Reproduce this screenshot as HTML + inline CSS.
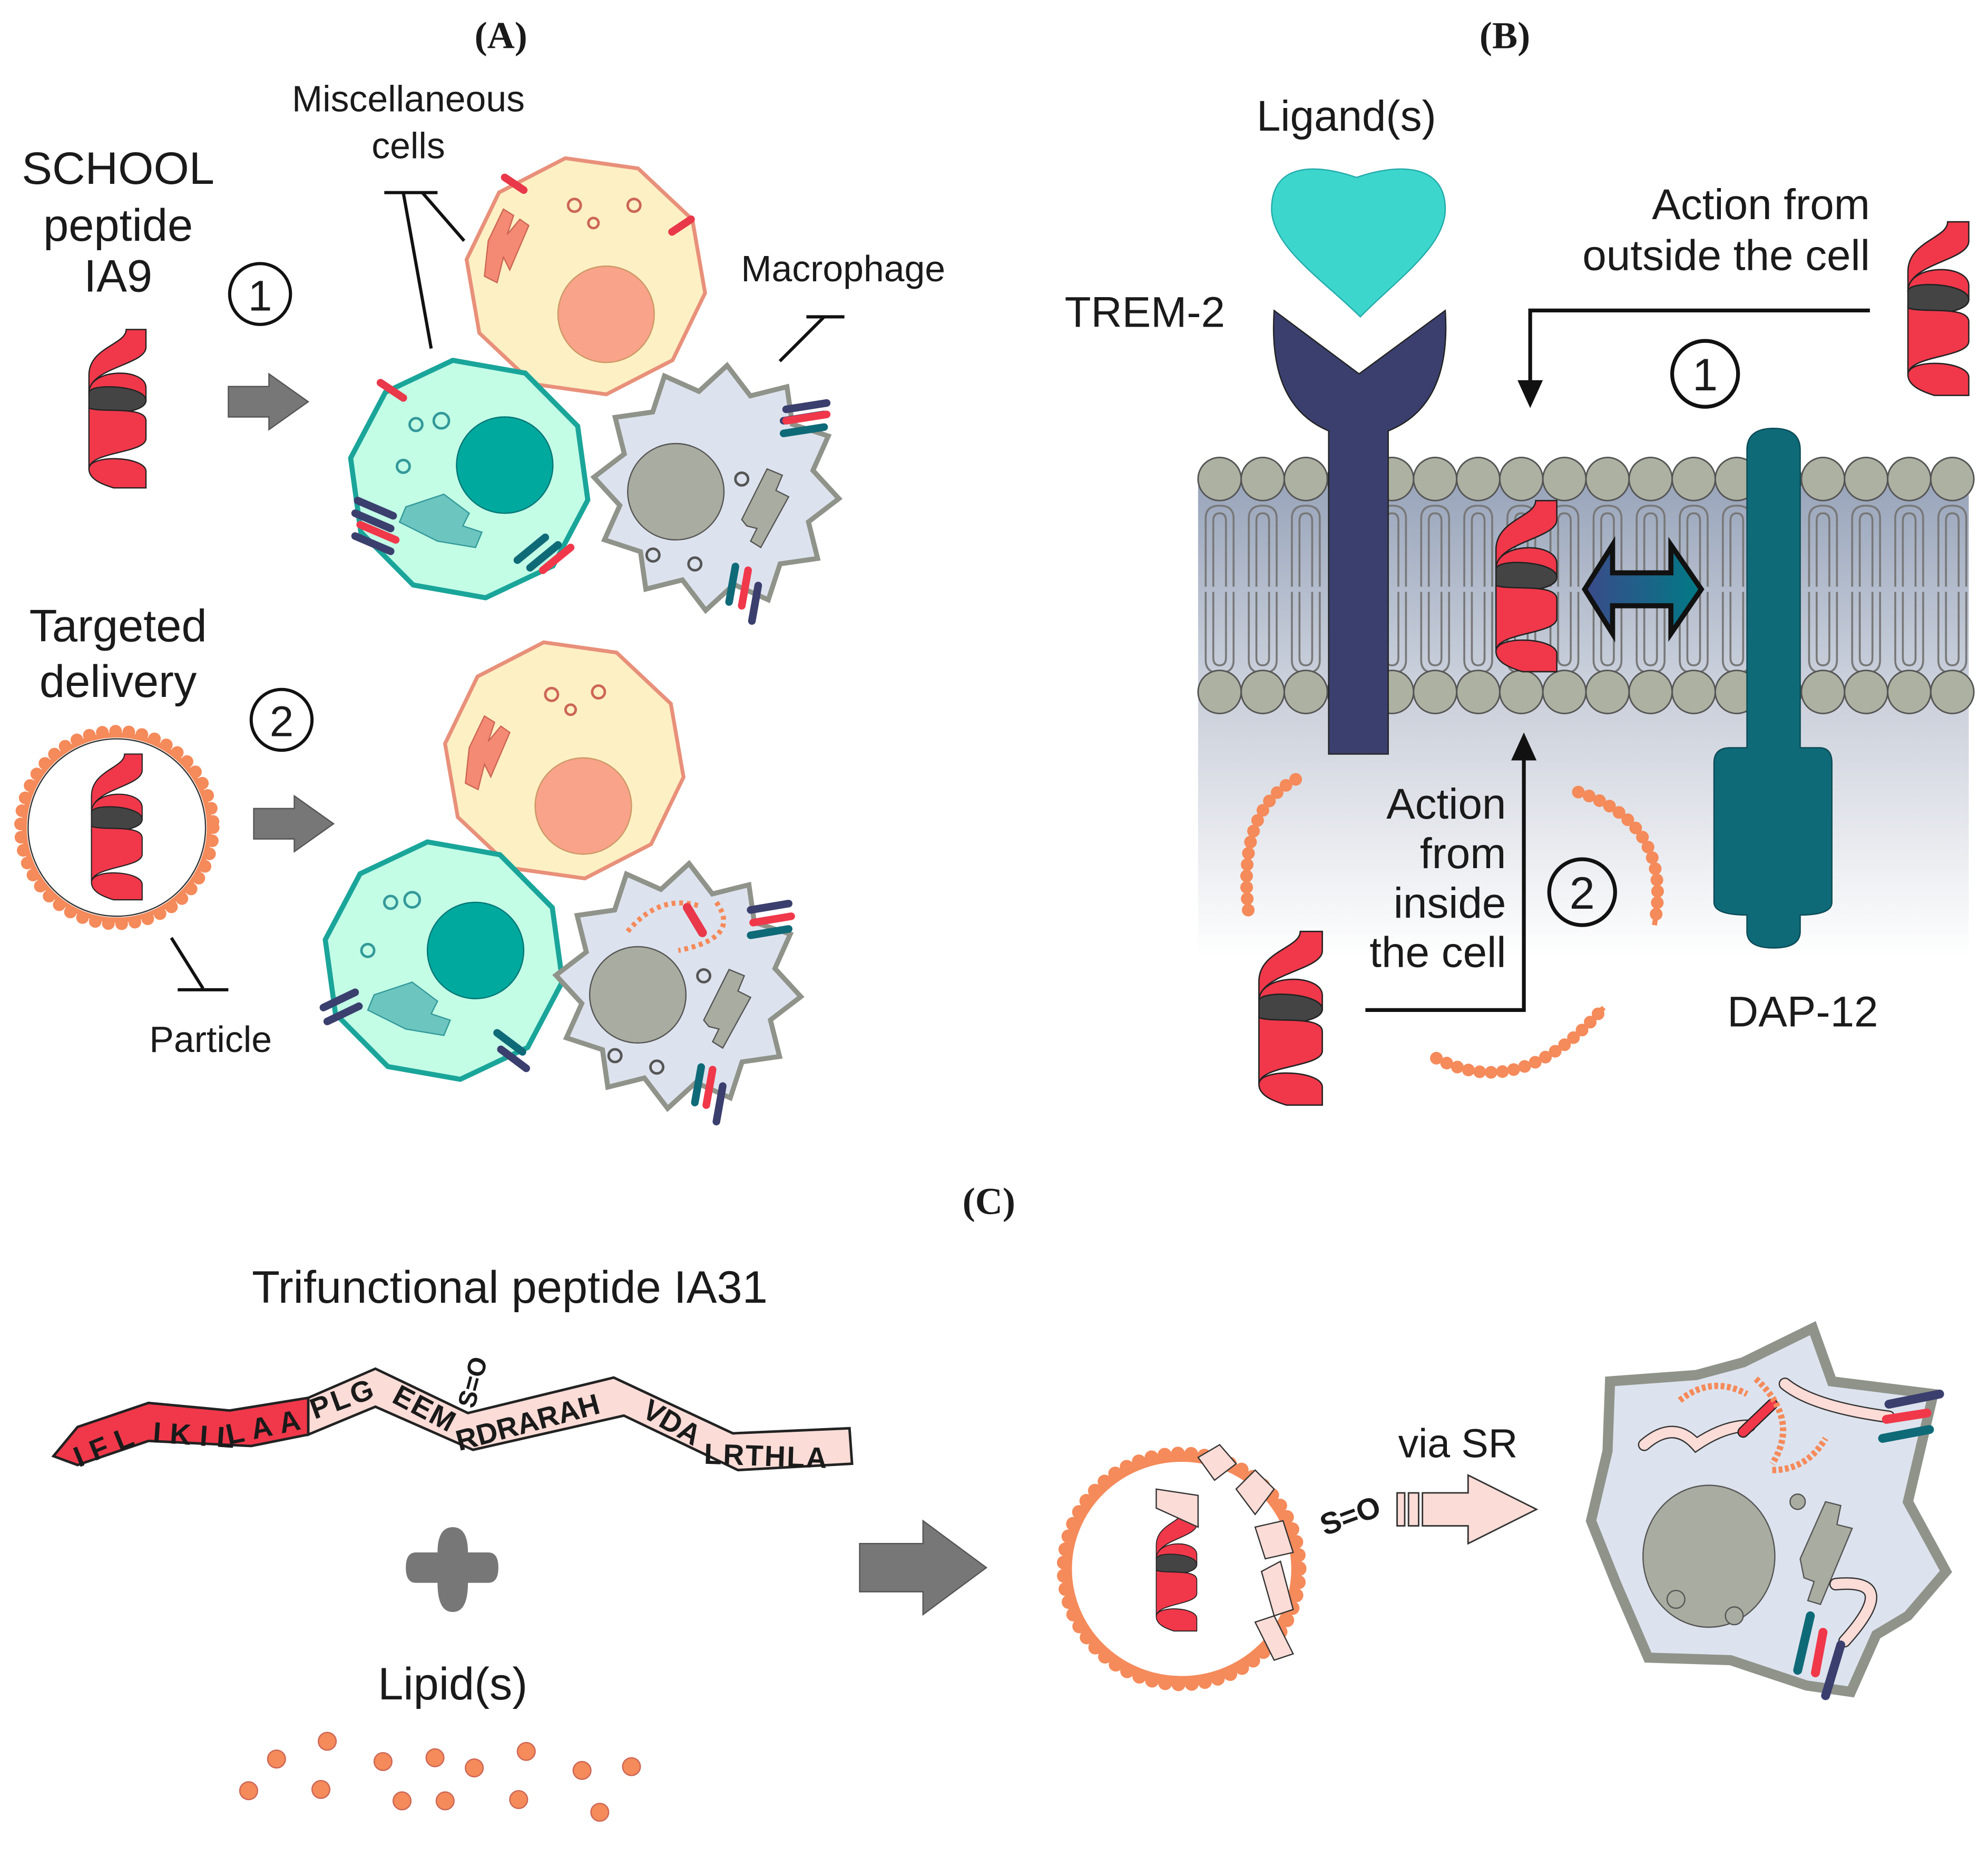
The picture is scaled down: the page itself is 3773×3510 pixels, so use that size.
<!DOCTYPE html>
<html><head><meta charset="utf-8"><style>
html,body{margin:0;padding:0;background:#fff}
svg{display:block}
text{font-family:"Liberation Sans",sans-serif;fill:#1a1a1a}
.lab{font-family:"Liberation Serif",serif;font-weight:bold;font-size:30px}
</style></head><body>
<svg width="3773" height="3510" viewBox="0 0 1568 1459" xmlns="http://www.w3.org/2000/svg">
<defs>
<symbol id="hx" viewBox="0 0 46 125" preserveAspectRatio="none" overflow="visible">
<path d="M30,0 L46,0 L46,14 C46,28 0,30 0,50 L0,36 C0,14 30,12 30,0Z" fill="#f0384a" stroke="#222" stroke-width="1"/>
<path d="M0,50 C0,30 46,30 46,46 L46,56 C46,62 30,60 23,62 C14,62 0,60 0,50Z" fill="#f0384a" stroke="#222" stroke-width="1"/>
<path d="M0,50 C0,42 46,44 46,56 C46,68 0,68 0,62Z" fill="#444" stroke="#222" stroke-width="1"/>
<path d="M0,62 C10,66 46,60 46,72 L46,86 C46,98 0,96 0,110Z" fill="#f0384a" stroke="#222" stroke-width="1"/>
<path d="M0,110 C0,98 46,100 46,112 L46,125 L20,125 C10,122 0,118 0,110Z" fill="#f0384a" stroke="#222" stroke-width="1"/>
</symbol>
<polygon id="dec" points="95,0 77,56 29,90 -29,90 -77,56 -95,0 -77,-56 -29,-90 29,-90 77,-56"/>
<polygon id="spk" points="100,0 77,21 87,50 57,57 50,87 21,77 0,100 -21,77 -50,87 -57,57 -87,50 -77,21 -100,0 -77,-21 -87,-50 -57,-57 -50,-87 -21,-77 0,-100 21,-77 50,-87 57,-57 87,-50 77,-21"/>
<linearGradient id="memg" x1="0" y1="0" x2="0" y2="1"><stop offset="0" stop-color="#98a4ba"/><stop offset="1" stop-color="#cdd3de"/></linearGradient>
<linearGradient id="cytg" x1="0" y1="0" x2="0" y2="1"><stop offset="0" stop-color="#c9ced9"/><stop offset="1" stop-color="#ffffff"/></linearGradient>
<linearGradient id="dag" x1="0" y1="0" x2="1" y2="0"><stop offset="0" stop-color="#3b4a8a"/><stop offset="1" stop-color="#007a85"/></linearGradient>
<pattern id="tails" x="945" y="395" width="34" height="140" patternUnits="userSpaceOnUse">
<path d="M6,68 V14 Q6,4 17,4 Q28,4 28,14 V68 M12,68 V16 Q12,10 17,10 Q22,10 22,16 V68" fill="none" stroke="#777" stroke-width="1.5"/>
<path d="M6,72 V126 Q6,136 17,136 Q28,136 28,126 V72 M12,72 V124 Q12,130 17,130 Q22,130 22,124 V72" fill="none" stroke="#777" stroke-width="1.5"/>
</pattern>
</defs>

<text class="lab" x="395" y="38" text-anchor="middle">(A)</text>
<text class="lab" x="1187" y="38" text-anchor="middle">(B)</text>
<text class="lab" x="780" y="958" text-anchor="middle">(C)</text>

<!-- ===== A ===== -->
<g font-size="36" text-anchor="middle">
<text x="93" y="145">SCHOOL</text><text x="93" y="190">peptide</text><text x="93" y="230">IA9</text>
<text x="93" y="506">Targeted</text><text x="93" y="550">delivery</text>
</g>
<g font-size="29" text-anchor="middle">
<text x="322" y="88">Miscellaneous</text><text x="322" y="125">cells</text>
<text x="665" y="222">Macrophage</text>
<text x="166" y="830">Particle</text>
</g>
<g fill="none" stroke="#111" stroke-width="2.5">
<circle cx="205" cy="232" r="24"/><circle cx="222" cy="568" r="24"/>
<path d="M340,275 L318,152 M303,152 H345 M366,190 L333,152"/>
<path d="M615,285 L650,250 M636,250 H666"/>
<path d="M135,740 L160,780 M140,781 H180"/>
</g>
<text x="205" y="245" font-size="34" text-anchor="middle">1</text>
<text x="222" y="581" font-size="34" text-anchor="middle">2</text>
<use href="#hx" x="70" y="260" width="45" height="125"/>
<path d="M180,305 H212 V295 L243,317 L212,339 V329 H180Z" fill="#777" stroke="#555"/>
<path d="M200,638 H232 V628 L263,650 L232,672 V662 H200Z" fill="#777" stroke="#555"/>

<g transform="translate(462,218) rotate(8)"><use href="#dec" fill="#fdf0c4" stroke="#e8907a" stroke-width="3"/></g>
<circle cx="478" cy="248" r="38" fill="#f9a38a" stroke="#c96" stroke-width="1"/>
<path d="M385,190 l12,-25 l8,5 l-5,15 l10,-12 l7,5 l-15,35 l-5,-10 l-5,20 l-10,-5Z" fill="#f48a73" stroke="#c65" />
<circle cx="453" cy="162" r="5" fill="none" stroke="#c65" stroke-width="2"/><circle cx="468" cy="176" r="4" fill="none" stroke="#c65" stroke-width="2"/><circle cx="500" cy="162" r="5" fill="none" stroke="#c65" stroke-width="2"/>
<g transform="translate(370,378) rotate(10)"><use href="#dec" fill="#c3fde6" stroke="#1aa59a" stroke-width="4"/></g>
<circle cx="398" cy="367" r="38" fill="#00a99d" stroke="#077" />
<path d="M320,400 l30,-10 l20,15 l-5,10 l15,5 l-5,12 l-30,-5 l-30,-15Z" fill="#6cc6bf" stroke="#399"/>
<circle cx="328" cy="335" r="5" fill="none" stroke="#399" stroke-width="2"/><circle cx="348" cy="332" r="6" fill="none" stroke="#399" stroke-width="2"/><circle cx="318" cy="368" r="5" fill="none" stroke="#399" stroke-width="2"/>
<g transform="translate(565,385) rotate(5) scale(0.97)"><use href="#spk" fill="#dde3ee" stroke="#8f938a" stroke-width="4"/></g>
<circle cx="533" cy="388" r="38" fill="#a9aca0" stroke="#555"/>
<path d="M585,410 l20,-40 l12,5 l-5,12 l10,5 l-22,40 l-8,-5 l5,-10 l-8,-2Z" fill="#a9aca0" stroke="#555"/>
<circle cx="585" cy="378" r="5" fill="none" stroke="#555" stroke-width="2"/><circle cx="515" cy="438" r="5" fill="none" stroke="#555" stroke-width="2"/><circle cx="548" cy="445" r="5" fill="none" stroke="#555" stroke-width="2"/>
<g stroke-linecap="round" stroke-width="6">
<path d="M398,140 l15,10 M530,183 l15,-10 M300,302 l18,12" stroke="#e8384a"/>
<path d="M620,323 l32,-5 M618,332 l32,-5" stroke="#3a3f6e"/><path d="M620,332 l32,-5" stroke="#f0384a"/><path d="M618,342 l32,-5" stroke="#0f6a78"/>
<path d="M282,395 l28,12 M280,405 l28,12" stroke="#3a3f6e"/><path d="M284,414 l28,12" stroke="#f0384a"/><path d="M280,423 l28,12" stroke="#3a3f6e"/>
<path d="M408,442 l22,-18 M418,448 l22,-18" stroke="#0f6a78"/><path d="M428,450 l22,-18" stroke="#f0384a"/>
<path d="M575,475 l5,-28" stroke="#0f6a78"/><path d="M585,478 l5,-28" stroke="#f0384a"/><path d="M593,490 l5,-28" stroke="#3a3f6e"/>
</g>

<circle cx="92" cy="653" r="76" fill="none" stroke="#f58a5a" stroke-width="10" stroke-dasharray="0 10.5" stroke-linecap="round"/>
<circle cx="92" cy="653" r="73" fill="#fff" stroke="#f58a5a" stroke-width="4"/>
<circle cx="92" cy="653" r="70" fill="none" stroke="#333" stroke-width="1"/>
<use href="#hx" x="72" y="595" width="40" height="115"/>

<g transform="translate(445,600) rotate(8)"><use href="#dec" fill="#fdf0c4" stroke="#e8907a" stroke-width="3"/></g>
<circle cx="460" cy="636" r="38" fill="#f9a38a" stroke="#c96"/>
<path d="M370,590 l12,-25 l8,5 l-5,15 l10,-12 l7,5 l-15,35 l-5,-10 l-5,20 l-10,-5Z" fill="#f48a73" stroke="#c65"/>
<circle cx="435" cy="548" r="5" fill="none" stroke="#c65" stroke-width="2"/><circle cx="450" cy="560" r="4" fill="none" stroke="#c65" stroke-width="2"/><circle cx="472" cy="546" r="5" fill="none" stroke="#c65" stroke-width="2"/>
<g transform="translate(350,758) rotate(10)"><use href="#dec" fill="#c3fde6" stroke="#1aa59a" stroke-width="4"/></g>
<circle cx="375" cy="750" r="38" fill="#00a99d" stroke="#077"/>
<path d="M295,785 l30,-10 l20,15 l-5,10 l15,5 l-5,12 l-30,-5 l-30,-15Z" fill="#6cc6bf" stroke="#399"/>
<circle cx="308" cy="712" r="5" fill="none" stroke="#399" stroke-width="2"/><circle cx="325" cy="710" r="6" fill="none" stroke="#399" stroke-width="2"/><circle cx="290" cy="750" r="5" fill="none" stroke="#399" stroke-width="2"/>
<g transform="translate(535,778) rotate(5) scale(0.97)"><use href="#spk" fill="#dde3ee" stroke="#8f938a" stroke-width="4"/></g>
<circle cx="503" cy="785" r="38" fill="#a9aca0" stroke="#555"/>
<path d="M555,805 l20,-40 l12,5 l-5,12 l10,5 l-22,40 l-8,-5 l5,-10 l-8,-2Z" fill="#a9aca0" stroke="#555"/>
<circle cx="555" cy="770" r="5" fill="none" stroke="#555" stroke-width="2"/><circle cx="485" cy="833" r="5" fill="none" stroke="#555" stroke-width="2"/><circle cx="518" cy="842" r="5" fill="none" stroke="#555" stroke-width="2"/>
<path d="M495,735 Q520,705 552,715" fill="none" stroke="#f58a5a" stroke-width="4" stroke-dasharray="3 3"/>
<path d="M565,712 Q585,740 535,750" fill="none" stroke="#f58a5a" stroke-width="4" stroke-dasharray="3 3"/>
<path d="M542,716 l12,20" stroke="#e8384a" stroke-width="7" stroke-linecap="round"/>
<g stroke-linecap="round" stroke-width="6">
<path d="M592,718 l30,-5" stroke="#3a3f6e"/><path d="M594,728 l30,-5" stroke="#f0384a"/><path d="M592,738 l30,-5" stroke="#0f6a78"/>
<path d="M255,795 l25,-12 M258,806 l25,-12" stroke="#3a3f6e"/>
<path d="M392,815 l20,15" stroke="#0f6a78"/><path d="M395,828 l20,15" stroke="#3a3f6e"/>
<path d="M548,870 l5,-28" stroke="#0f6a78"/><path d="M557,872 l5,-28" stroke="#f0384a"/><path d="M565,885 l5,-28" stroke="#3a3f6e"/>
</g>

<!-- ===== B ===== -->
<rect x="945" y="545" width="608" height="210" fill="url(#cytg)"/>
<rect x="945" y="378" width="608" height="167" fill="url(#memg)"/>
<rect x="945" y="395" width="608" height="140" fill="url(#tails)"/>
<g fill="#adb1a2" stroke="#555" stroke-width="1.2">
<g id="heads">
<circle cx="962" cy="378" r="17"/><circle cx="996" cy="378" r="17"/><circle cx="1030" cy="378" r="17"/><circle cx="1064" cy="378" r="17"/><circle cx="1098" cy="378" r="17"/><circle cx="1132" cy="378" r="17"/><circle cx="1166" cy="378" r="17"/><circle cx="1200" cy="378" r="17"/><circle cx="1234" cy="378" r="17"/><circle cx="1268" cy="378" r="17"/><circle cx="1302" cy="378" r="17"/><circle cx="1336" cy="378" r="17"/><circle cx="1370" cy="378" r="17"/><circle cx="1404" cy="378" r="17"/><circle cx="1438" cy="378" r="17"/><circle cx="1472" cy="378" r="17"/><circle cx="1506" cy="378" r="17"/><circle cx="1540" cy="378" r="17"/>
</g>
<use href="#heads" y="168"/>
</g>
<path d="M1073,250 C1045,222 1003,195 1003,165 C1003,130 1035,128 1070,140 C1105,128 1140,130 1140,165 C1140,195 1100,222 1073,250Z" fill="#3dd6cc" stroke="#2aa" stroke-width="1"/>
<path d="M1005,245 L1072,295 L1140,245 Q1145,320 1095,340 V595 H1048 V340 Q1000,320 1005,245Z" fill="#3a3f6e" stroke="#222" stroke-width="1"/>
<path d="M1378,355 Q1378,338 1399,338 Q1420,338 1420,355 V590 H1435 Q1445,590 1445,602 V712 Q1445,722 1420,722 V735 Q1420,748 1399,748 Q1378,748 1378,735 V722 Q1352,722 1352,712 V602 Q1352,590 1365,590 H1378Z" fill="#0f6a78" stroke="#0a4a55"/>
<use href="#hx" x="1180" y="395" width="48" height="135"/>
<path d="M1250,465 L1272,430 V452 H1318 V430 L1342,465 L1318,500 V478 H1272 V500Z" fill="url(#dag)" stroke="#111" stroke-width="4"/>
<g font-size="34">
<text x="1062" y="103" text-anchor="middle">Ligand(s)</text>
<text x="903" y="258" text-anchor="middle">TREM-2</text>
<text x="1475" y="173" text-anchor="end">Action from</text>
<text x="1475" y="213" text-anchor="end">outside the cell</text>
<text x="1188" y="646" text-anchor="end">Action</text>
<text x="1188" y="685" text-anchor="end">from</text>
<text x="1188" y="724" text-anchor="end">inside</text>
<text x="1188" y="763" text-anchor="end">the cell</text>
<text x="1422" y="810" text-anchor="middle">DAP-12</text>
</g>
<use href="#hx" x="1505" y="175" width="48" height="137"/>
<g fill="none" stroke="#111" stroke-width="3">
<path d="M1475,245 H1207 V305"/><path d="M1077,797 H1202 V595"/>
<circle cx="1345" cy="295" r="26"/><circle cx="1248" cy="704" r="26"/>
</g>
<path d="M1197,300 L1207,322 L1217,300Z M1192,600 L1202,578 L1212,600Z" fill="#111"/>
<text x="1345" y="308" font-size="36" text-anchor="middle">1</text>
<text x="1248" y="717" font-size="36" text-anchor="middle">2</text>
<use href="#hx" x="993" y="735" width="50" height="137"/>
<g fill="none" stroke="#f58a5a">
<path d="M1022,615 Q975,640 985,722" stroke-width="10" stroke-dasharray="0 9" stroke-linecap="round"/>
<path d="M1022,615 Q975,640 985,722" stroke-width="4"/>
<path d="M1245,625 Q1320,650 1305,730" stroke-width="10" stroke-dasharray="0 9" stroke-linecap="round"/>
<path d="M1245,625 Q1320,650 1305,730" stroke-width="4"/>
<path d="M1133,835 Q1200,870 1265,795" stroke-width="10" stroke-dasharray="0 9" stroke-linecap="round"/>
<path d="M1133,835 Q1200,870 1265,795" stroke-width="4"/>
</g>

<!-- ===== C ===== -->
<text x="402" y="1028" font-size="36" text-anchor="middle">Trifunctional peptide IA31</text>
<path d="M243,1103 L296,1080 L369,1115 L484,1087 L578,1131 L670,1127 L672,1155 L582,1160 L492,1117 L373,1144 L296,1110 L243,1132Z" fill="#fbdcd7" stroke="#222" stroke-width="2"/>
<path d="M61,1126 L117,1107 L181,1113 L243,1103 L243,1132 L198,1141 L117,1137 L61,1156 L42,1149Z" fill="#f0384a" stroke="#222" stroke-width="2"/>
<g font-size="23" font-weight="bold" fill="#222">
<text transform="translate(62,1158) rotate(-22)" letter-spacing="7">IFL</text>
<text transform="translate(120,1138) rotate(4)" letter-spacing="7">IKIL</text>
<text transform="translate(180,1140) rotate(-12)" letter-spacing="6">LAA</text>
<text transform="translate(248,1120) rotate(-20)" letter-spacing="2">PLG</text>
<text transform="translate(308,1106) rotate(28)" letter-spacing="1">EEM</text>
<text transform="translate(362,1145) rotate(-15)">RDRARAH</text>
<text transform="translate(505,1117) rotate(30)">VDA</text>
<text transform="translate(555,1155) rotate(2)" letter-spacing="1">LRTHLA</text>
<text transform="translate(374,1112) rotate(-75)" font-size="20">S=O</text>
</g>
<path d="M345,1225 Q345,1205 357,1205 Q369,1205 369,1225 H385 Q393,1225 393,1237 Q393,1249 385,1249 H369 Q369,1272 357,1272 Q345,1272 345,1249 H328 Q320,1249 320,1237 Q320,1225 328,1225Z" fill="#777"/>
<text x="357" y="1341" font-size="36" text-anchor="middle">Lipid(s)</text>
<g fill="#f58a5a" stroke="#c65" stroke-width="1">
<circle cx="218" cy="1388" r="7"/><circle cx="258" cy="1374" r="7"/><circle cx="196" cy="1413" r="7"/><circle cx="253" cy="1412" r="7"/><circle cx="302" cy="1390" r="7"/><circle cx="343" cy="1387" r="7"/><circle cx="374" cy="1395" r="7"/><circle cx="415" cy="1382" r="7"/><circle cx="317" cy="1421" r="7"/><circle cx="351" cy="1421" r="7"/><circle cx="409" cy="1420" r="7"/><circle cx="459" cy="1397" r="7"/><circle cx="498" cy="1394" r="7"/><circle cx="473" cy="1430" r="7"/>
</g>
<path d="M678,1218 H728 V1200 L778,1237 L728,1274 V1256 H678Z" fill="#777" stroke="#555"/>
<ellipse cx="932" cy="1238" rx="93" ry="91" fill="none" stroke="#f58a5a" stroke-width="11" stroke-dasharray="0 10.5" stroke-linecap="round"/>
<ellipse cx="932" cy="1238" rx="89" ry="87" fill="#fff" stroke="#f58a5a" stroke-width="5"/>
<use href="#hx" x="912" y="1192" width="32" height="95"/>
<g fill="#fbdcd7" stroke="#333" stroke-width="1">
<path d="M945,1150 L962,1140 L975,1155 L958,1168Z"/><path d="M975,1175 L990,1160 L1005,1175 L990,1195Z"/>
<path d="M990,1205 L1012,1200 L1020,1225 L998,1230Z"/><path d="M995,1240 L1010,1232 L1020,1270 L1005,1275Z"/>
<path d="M990,1280 L1005,1275 L1020,1305 L1005,1310Z"/>
<path d="M912,1175 L945,1180 L945,1205 L912,1190Z"/>
</g>
<text transform="translate(1045,1212) rotate(-20)" font-size="24" font-weight="bold">S=O</text>
<text x="1150" y="1150" font-size="32" text-anchor="middle">via SR</text>
<g fill="#fbdcd7" stroke="#333" stroke-width="1.2">
<rect x="1102" y="1178" width="6" height="26"/><rect x="1111" y="1178" width="8" height="26"/>
<path d="M1122,1178 H1158 V1164 L1212,1191 L1158,1218 V1204 H1122Z"/>
</g>
<path d="M1270,1090 L1338,1085 L1375,1075 L1430,1048 L1445,1090 L1525,1100 L1505,1185 L1535,1240 L1505,1275 L1480,1290 L1460,1335 L1425,1330 L1365,1310 L1300,1308 L1275,1250 L1255,1200 L1268,1145Z" fill="#dde3ee" stroke="#8f938a" stroke-width="8" stroke-linejoin="miter"/>
<ellipse cx="1348" cy="1228" rx="52" ry="56" fill="#a9aca0" stroke="#555"/>
<path d="M1420,1230 l20,-45 l12,3 l-3,15 l12,3 l-25,60 l-10,-3 l5,-15 l-8,-3 Z" fill="#a9aca0" stroke="#555"/>
<circle cx="1418" cy="1185" r="6" fill="#a9aca0" stroke="#555"/><circle cx="1322" cy="1262" r="7" fill="#a9aca0" stroke="#555"/><circle cx="1368" cy="1275" r="7" fill="#a9aca0" stroke="#555"/>
<path d="M1297,1140 Q1320,1120 1338,1140 Q1360,1125 1380,1125" fill="none" stroke="#333" stroke-width="10" stroke-linecap="round"/>
<path d="M1297,1140 Q1320,1120 1338,1140 Q1360,1125 1380,1125" fill="none" stroke="#fbdcd7" stroke-width="8" stroke-linecap="round"/>
<path d="M1375,1130 L1398,1108" stroke="#222" stroke-width="9" stroke-linecap="round"/><path d="M1375,1130 L1398,1108" stroke="#f0384a" stroke-width="7" stroke-linecap="round"/>
<path d="M1408,1092 Q1430,1110 1490,1118" fill="none" stroke="#333" stroke-width="10" stroke-linecap="round"/>
<path d="M1408,1092 Q1430,1110 1490,1118" fill="none" stroke="#fbdcd7" stroke-width="8" stroke-linecap="round"/>
<path d="M1448,1250 Q1500,1245 1455,1295" fill="none" stroke="#333" stroke-width="10" stroke-linecap="round"/>
<path d="M1448,1250 Q1500,1245 1455,1295" fill="none" stroke="#fbdcd7" stroke-width="8" stroke-linecap="round"/>
<g fill="none" stroke="#f58a5a" stroke-width="5" stroke-dasharray="3 2">
<path d="M1325,1105 Q1350,1085 1378,1100"/><path d="M1385,1088 Q1420,1120 1398,1155"/><path d="M1398,1160 Q1425,1160 1440,1135"/>
</g>
<g stroke-linecap="round" stroke-width="7">
<path d="M1490,1108 L1530,1100" stroke="#3a3f6e"/><path d="M1488,1120 L1520,1115" stroke="#f0384a"/><path d="M1485,1135 L1522,1128" stroke="#0f6a78"/>
<path d="M1428,1275 L1418,1318" stroke="#0f6a78"/><path d="M1438,1288 L1432,1320" stroke="#f0384a"/><path d="M1452,1298 L1440,1338" stroke="#3a3f6e"/>
</g>
</svg>
</body></html>
